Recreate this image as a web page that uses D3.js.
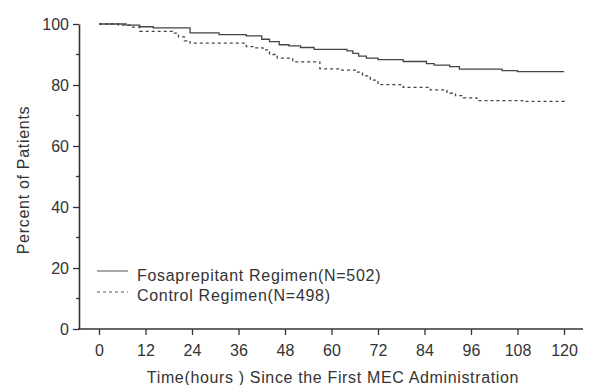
<!DOCTYPE html>
<html>
<head>
<meta charset="utf-8">
<script src="https://cdn.jsdelivr.net/npm/d3@7"></script>
<style>
  body { margin: 0; background: #fff; }
  text { font-family: "Liberation Sans", Arial, sans-serif; fill: #333; }
</style>
</head>
<body>
<div id="chart"></div>
<script>
// data (hours, percent)
var fosaTime = [0, 7, 10.5, 14, 23.5, 31, 38, 42, 44, 46.5, 49, 52, 55.5, 64, 65.5, 67, 69, 72, 78.5, 84.5, 86.5, 90.5, 93, 104, 108, 120];
var fosaPct  = [100, 99.6, 99.1, 98.7, 97.1, 96.5, 96.1, 95, 94.2, 93.2, 92.8, 92.3, 91.7, 91.2, 90.4, 89.5, 88.8, 88.3, 87.7, 87.0, 86.5, 86.0, 85.2, 84.7, 84.4, 84.4];

var ctrlTime = [0, 5, 8, 10.5, 19, 20.5, 22, 23.5, 38, 40, 42.3, 44, 46, 50, 55, 57, 62, 66.5, 68, 70, 72, 78.5, 85.5, 89.8, 92, 94, 97.5, 110, 120];
var ctrlPct  = [100, 99.6, 99, 97.6, 97, 95.8, 94.5, 93.7, 92.6, 92.2, 91.5, 90, 88.8, 87.6, 87.6, 85.3, 84.9, 84.2, 83, 81.6, 80.1, 79.2, 78.4, 77.3, 76.5, 75.8, 74.9, 74.6, 74.3];

var xTicks = [0, 12, 24, 36, 48, 60, 72, 84, 96, 108, 120];
var yTicks = [0, 20, 40, 60, 80, 100];
var yMinor = [10, 30, 50, 70, 90];

var legendLabels = ["Fosaprepitant Regimen(N=502)", "Control Regimen(N=498)"];

var width = 589, height = 385;

var svg = d3.select("#chart").append("svg")
    .attr("width", width)
    .attr("height", height);

// scales
var x = d3.scaleLinear().domain([0, 120]).range([99, 564]);
var y = d3.scaleLinear().domain([0, 100]).range([329, 24]);

var axisColor = "#333";

// y axis
var yAxis = svg.append("g")
    .attr("transform", "translate(79,0)")
    .call(d3.axisLeft(y).tickValues(yTicks).tickSize(6).tickSizeOuter(0).tickPadding(4));
yAxis.select(".domain").attr("stroke", axisColor).attr("stroke-width", 1.6);
yAxis.selectAll(".tick line").attr("stroke", axisColor).attr("stroke-width", 1.3);
yAxis.selectAll(".tick text").attr("font-size", 16).style("fill", "#333")
    .style("font-family", "'Liberation Sans', Arial, sans-serif");

svg.append("g").selectAll("line")
    .data(yMinor)
  .enter().append("line")
    .attr("x1", 76).attr("x2", 79)
    .attr("y1", function(d) { return y(d); })
    .attr("y2", function(d) { return y(d); })
    .attr("stroke", axisColor).attr("stroke-width", 1.3);

// x axis
var xAxis = svg.append("g")
    .attr("transform", "translate(0,329)")
    .call(d3.axisBottom(x).tickValues(xTicks).tickSize(6).tickSizeOuter(0).tickPadding(10));
xAxis.select(".domain").remove();
xAxis.selectAll(".tick line").attr("stroke", axisColor).attr("stroke-width", 1.3);
xAxis.selectAll(".tick text").attr("font-size", 16).style("fill", "#333")
    .style("font-family", "'Liberation Sans', Arial, sans-serif");
svg.append("line")
    .attr("x1", 78).attr("x2", 583)
    .attr("y1", 329).attr("y2", 329)
    .attr("stroke", axisColor).attr("stroke-width", 1.6);

// titles
svg.append("text")
    .attr("x", 333).attr("y", 383)
    .attr("text-anchor", "middle")
    .attr("font-size", 16)
    .attr("letter-spacing", 0.65)
    .text("Time(hours ) Since the First MEC Administration");

svg.append("text")
    .attr("transform", "translate(29,180) rotate(-90)")
    .attr("text-anchor", "middle")
    .attr("font-size", 16)
    .attr("letter-spacing", 0.7)
    .text("Percent of Patients");

// curves
var line = d3.line()
    .x(function(d) { return x(d[0]); })
    .y(function(d) { return y(d[1]); })
    .curve(d3.curveStepAfter);

var fosa = fosaTime.map(function(t, i) { return [t, fosaPct[i]]; });
var ctrl = ctrlTime.map(function(t, i) { return [t, ctrlPct[i]]; });

svg.append("path")
    .datum(fosa)
    .attr("fill", "none")
    .attr("stroke", "#444")
    .attr("stroke-width", 1.3)
    .attr("d", line);

svg.append("path")
    .datum(ctrl)
    .attr("fill", "none")
    .attr("stroke", "#444")
    .attr("stroke-width", 1.3)
    .attr("stroke-dasharray", "3,3")
    .attr("d", line);

// legend
var legend = svg.append("g");
var legendY = [271, 292];
var legendTextY = [281, 301];
legend.selectAll("line")
    .data(legendLabels)
  .enter().append("line")
    .attr("x1", 97).attr("x2", 128)
    .attr("y1", function(d, i) { return legendY[i]; })
    .attr("y2", function(d, i) { return legendY[i]; })
    .attr("stroke", "#555")
    .attr("stroke-width", 1)
    .attr("stroke-dasharray", function(d, i) { return i == 1 ? "3,3" : null; });
legend.selectAll("text")
    .data(legendLabels)
  .enter().append("text")
    .attr("x", 137)
    .attr("y", function(d, i) { return legendTextY[i]; })
    .attr("font-size", 16)
    .attr("letter-spacing", 0.7)
    .text(function(d) { return d; });
</script>
</body>
</html>
